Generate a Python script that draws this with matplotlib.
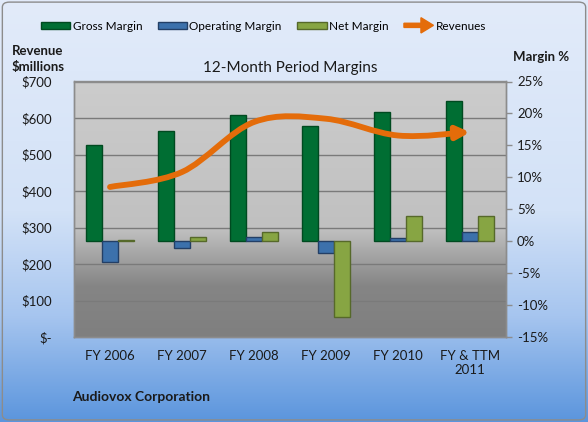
import numpy as np
import matplotlib
matplotlib.use('Agg')
import matplotlib.pyplot as plt
from matplotlib.colors import LinearSegmentedColormap
from matplotlib.patches import Patch, FancyArrowPatch, FancyArrow, FancyBboxPatch
from matplotlib.legend_handler import HandlerPatch
from matplotlib.path import Path
from matplotlib.lines import Line2D
import matplotlib.transforms as mtransforms

plt.rcParams['font.family'] = ['Lato', 'DejaVu Sans']

# data
periods = ['FY 2006', 'FY 2007', 'FY 2008', 'FY 2009', 'FY 2010', 'FY & TTM\n2011']
gross_margin = [15.0, 17.2, 19.8, 18.0, 20.2, 21.9]
operating_margin = [-3.2, -1.1, 0.7, -1.9, 0.5, 1.5]
net_margin = [0.2, 0.6, 1.4, -11.8, 4.0, 4.0]
revenues = [411, 452, 589, 598, 552, 561]

rev_ticks = [0, 100, 200, 300, 400, 500, 600, 700]
pct_ticks = [-15, -10, -5, 0, 5, 10, 15, 20, 25]

c_gross, e_gross = '#006e33', '#004a20'
c_op, e_op = '#3c71ac', '#233f66'
c_net, e_net = '#87a543', '#56692a'
c_rev = '#e46c0a'
txt = '#1a1a1a'

fig = plt.figure(figsize=(5.88, 4.22), dpi=100)

# figure background gradient
bg = fig.add_axes([0, 0, 1, 1], zorder=-10)
bg_cmap = LinearSegmentedColormap.from_list(
    'bg', [(0, '#5b95dd'), (0.25, '#a6c5ef'), (0.5, '#d3e2f7'), (1, '#e2ebfa')])
bg.imshow(np.linspace(0, 1, 256).reshape(-1, 1)[::-1], cmap=bg_cmap,
          aspect='auto', extent=[0, 1, 0, 1], origin='upper')
bg.axis('off')
fig.patches.append(FancyBboxPatch((0.004, 0.005), 0.992, 0.99,
                                  boxstyle='round,pad=0,rounding_size=0.012',
                                  transform=fig.transFigure, facecolor='none',
                                  edgecolor='#8c8c8c', lw=1.0))

pos = [74 / 588, 1 - 337 / 422, 432 / 588, 255.5 / 422]
ax2 = fig.add_axes(pos)          # margin %, right side, bars
ax = ax2.twinx()                 # revenue, left side, line
ax.set_zorder(ax2.get_zorder() + 1)
ax.patch.set_visible(False)

# plot area gradient
pa_cmap = LinearSegmentedColormap.from_list(
    'pa', [(0, '#7f7f7f'), (0.2, '#858585'), (0.42, '#c0c0c0'), (1, '#cccccc')])
ax2.imshow(np.linspace(0, 1, 256).reshape(-1, 1)[::-1], cmap=pa_cmap,
           aspect='auto', extent=[0, 1, 0, 1], transform=ax2.transAxes, zorder=0)

x = np.arange(len(periods))
w = 0.218
ax2.bar(x - w, gross_margin, w, color=c_gross, edgecolor=e_gross, lw=1, zorder=3)
ax2.bar(x, operating_margin, w, color=c_op, edgecolor=e_op, lw=1, zorder=3)
ax2.bar(x + w, net_margin, w, color=c_net, edgecolor=e_net, lw=1, zorder=3)

ax2.set_xlim(-0.5, len(periods) - 0.5)
ax2.set_ylim(-15, 25)
ax.set_ylim(0, 700)

# horizontal gridlines follow the revenue axis
trans = mtransforms.blended_transform_factory(ax2.transAxes, ax.transData)
for v in rev_ticks[1:-1]:
    ax2.add_line(Line2D([0, 1], [v, v], transform=trans, color='#7a7a7a',
                        lw=1.0, zorder=1))

# revenue line: smooth curve (Excel style) ending in an arrow head
pts = np.column_stack([x, revenues]).astype(float)
verts = [pts[0]]
codes = [Path.MOVETO]
for i in range(len(pts) - 1):
    p0 = pts[i - 1] if i > 0 else pts[i]
    p1, p2 = pts[i], pts[i + 1]
    p3 = pts[i + 2] if i + 2 < len(pts) else pts[i + 1]
    verts += [p1 + (p2 - p0) / 6, p2 - (p3 - p1) / 6, p2]
    codes += [Path.CURVE4] * 3
arrow = FancyArrowPatch(path=Path(verts, codes), arrowstyle='-|>',
                        mutation_scale=19, color=c_rev, lw=4.2,
                        capstyle='round', joinstyle='round', zorder=5)
ax.add_patch(arrow)

# axes styling
for a in (ax, ax2):
    for s in a.spines.values():
        s.set_color('#8c8c8c')
        s.set_linewidth(1.0)

ax.set_yticks(rev_ticks)
ax.set_yticklabels(['$-'] + ['$%d' % v for v in rev_ticks[1:]])
ax.yaxis.tick_left()
ax.tick_params(axis='y', length=0, pad=16, labelsize=9.5, labelcolor=txt)
ax.set_xticks([])

ax2.set_yticks(pct_ticks)
ax2.set_yticklabels(['%d%%' % v for v in pct_ticks])
ax2.yaxis.tick_right()
ax2.tick_params(axis='y', length=4, width=1, color='#8c8c8c', pad=4,
                labelsize=9.5, labelcolor=txt)
ax2.set_xticks(x)
ax2.set_xticklabels(periods, linespacing=1.3)
ax2.tick_params(axis='x', length=0, pad=9, labelsize=9.5, labelcolor=txt)

# texts
fig.text(290 / 588, 1 - 68 / 422, '12-Month Period Margins', ha='center',
         va='center', fontsize=11, color=txt)
fig.text(12 / 588, 1 - 59 / 422, 'Revenue\n$millions', ha='left', va='center',
         fontsize=9.5, fontweight='bold', color=txt, linespacing=1.35)
fig.text(513 / 588, 1 - 57 / 422, 'Margin %', ha='left', va='center',
         fontsize=9.5, fontweight='bold', color=txt)
fig.text(72 / 588, 1 - 397 / 422, 'Audiovox Corporation', ha='left',
         va='center', fontsize=10, fontweight='bold', color=txt)


# legend
class ArrowHandler(HandlerPatch):
    def create_artists(self, legend, orig_handle, xdescent, ydescent,
                       width, height, fontsize, trans):
        y = height / 2 - ydescent
        a = FancyArrow(-xdescent, y, width, 0, width=3.0, head_width=11,
                       head_length=9, length_includes_head=True,
                       color=c_rev, transform=trans)
        return [a]


handles = [Patch(facecolor=c_gross, edgecolor=e_gross),
           Patch(facecolor=c_op, edgecolor=e_op),
           Patch(facecolor=c_net, edgecolor=e_net),
           Patch(facecolor=c_rev)]
labels = ['Gross Margin', 'Operating Margin', 'Net Margin', 'Revenues']
fig.legend(handles, labels, loc='center', bbox_to_anchor=(0.448, 1 - 26 / 422),
           ncol=4, frameon=False, fontsize=8.5, handlelength=2.5,
           handleheight=0.6, handletextpad=0.2, columnspacing=1.3,
           handler_map={handles[3]: ArrowHandler()})

fig.savefig('out.png', dpi=100)
